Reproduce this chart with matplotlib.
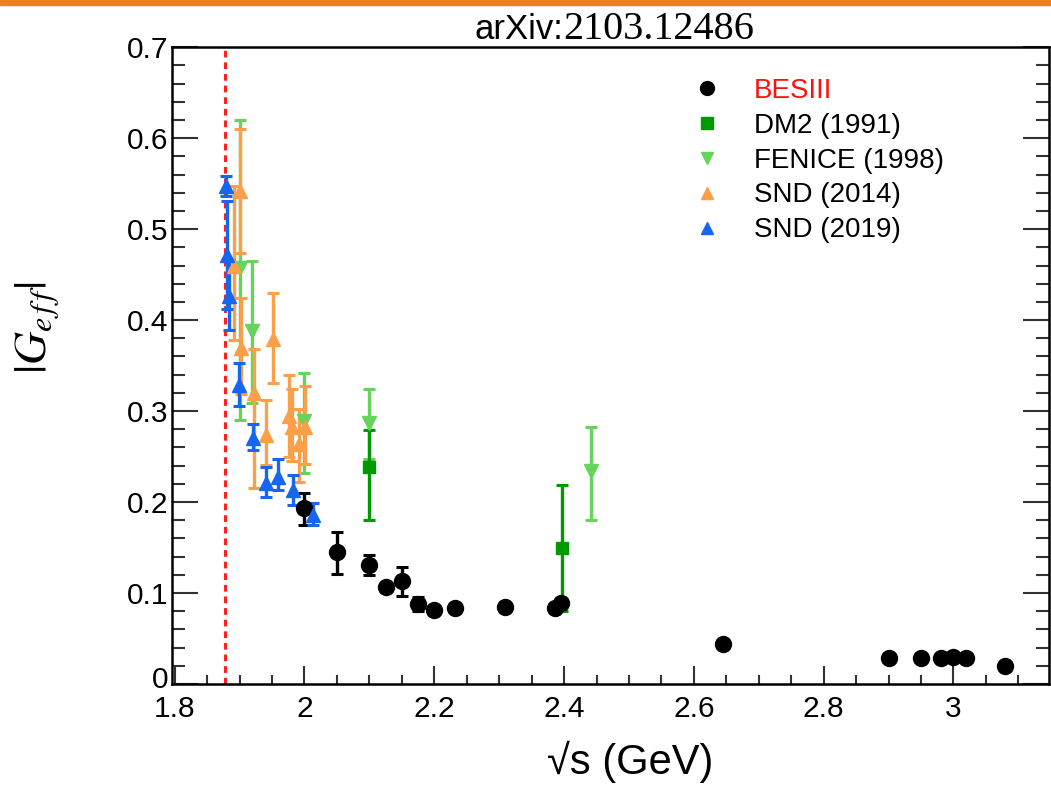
import numpy as np
import matplotlib
matplotlib.use('Agg')
import matplotlib.pyplot as plt
import matplotlib.transforms as mtransforms
from matplotlib.lines import Line2D
from matplotlib.patches import Rectangle
from matplotlib.ticker import MultipleLocator

plt.rcParams['font.family'] = ['Liberation Sans', 'DejaVu Sans']
plt.rcParams['mathtext.fontset'] = 'stix'

# BESIII
besiii_x = [2.0, 2.05, 2.1, 2.125, 2.15, 2.175, 2.2, 2.2324, 2.3094, 2.3864, 2.396,
            2.6444, 2.9, 2.95, 2.981, 3.0, 3.02, 3.08]
besiii_y = [0.193, 0.145, 0.131, 0.107, 0.113, 0.088, 0.081, 0.083, 0.085, 0.084, 0.089,
            0.044, 0.028, 0.028, 0.029, 0.030, 0.029, 0.020]
besiii_lo = [0.018, 0.024, 0.011, 0.004, 0.016, 0.008, 0.003, 0.003, 0.003, 0.003, 0.003,
             0.002, 0.002, 0.002, 0.002, 0.002, 0.002, 0.002]
besiii_hi = [0.017, 0.022, 0.011, 0.004, 0.016, 0.008, 0.003, 0.003, 0.003, 0.003, 0.003,
             0.002, 0.002, 0.002, 0.002, 0.002, 0.002, 0.002]

# DM2 (1991)
dm2_x = [2.1, 2.397]
dm2_y = [0.239, 0.149]
dm2_lo = [0.059, 0.069]
dm2_hi = [0.040, 0.070]

# FENICE (1998)
fen_x = [1.9, 1.919, 2.0, 2.1, 2.441]
fen_y = [0.457, 0.388, 0.289, 0.287, 0.234]
fen_lo = [0.167, 0.079, 0.057, 0.040, 0.054]
fen_hi = [0.163, 0.077, 0.053, 0.037, 0.049]

# SND (2014)
snd14_x = [1.891, 1.9, 1.902, 1.922, 1.941, 1.951, 1.976, 1.981, 1.991, 2.001]
snd14_y = [0.459, 0.542, 0.369, 0.320, 0.274, 0.379, 0.294, 0.283, 0.264, 0.283]
snd14_lo = [0.081, 0.068, 0.050, 0.105, 0.033, 0.048, 0.044, 0.038, 0.042, 0.041]
snd14_hi = [0.088, 0.068, 0.055, 0.048, 0.038, 0.051, 0.046, 0.041, 0.038, 0.045]

# SND (2019)
snd19_x = [1.879, 1.881, 1.884, 1.899, 1.921, 1.94, 1.96, 1.982, 2.013]
snd19_y = [0.547, 0.472, 0.426, 0.329, 0.270, 0.221, 0.228, 0.213, 0.186]
snd19_lo = [0.011, 0.060, 0.037, 0.024, 0.013, 0.015, 0.015, 0.016, 0.011]
snd19_hi = [0.011, 0.059, 0.040, 0.024, 0.016, 0.017, 0.019, 0.017, 0.013]

seuil = 1.877

c_bes = 'black'
c_dm2 = '#009a00'
c_fen = '#66d45a'
c_s14 = '#fba048'
c_s19 = '#1666f0'

fig = plt.figure(figsize=(10.51, 7.87), dpi=100)
ax = fig.add_axes([0.1637, 0.131, 0.8343, 0.809])

ax.plot([seuil, seuil], [0, 0.7], color='#ff2020', lw=2.2, ls=(0, (2.2, 1.6)), zorder=1)

eb = dict(elinewidth=2.4, capsize=4, capthick=2.2, ls='none')
ax.errorbar(fen_x, fen_y, yerr=[fen_lo, fen_hi], fmt='v', color=c_fen, ms=10, **eb)
ax.errorbar(snd14_x, snd14_y, yerr=[snd14_lo, snd14_hi], fmt='^', color=c_s14, ms=10, **eb)
ax.errorbar(dm2_x, dm2_y, yerr=[dm2_lo, dm2_hi], fmt='s', color=c_dm2, ms=9, **eb)
ax.errorbar(besiii_x, besiii_y, yerr=[besiii_lo, besiii_hi], fmt='o', color=c_bes, ms=11.5, **eb)
ax.errorbar(snd19_x, snd19_y, yerr=[snd19_lo, snd19_hi], fmt='^', color=c_s19, ms=10, **eb)

ax.set_xlim(1.796, 3.147)
ax.set_ylim(0, 0.7)
ax.xaxis.set_minor_locator(MultipleLocator(0.05))
ax.yaxis.set_minor_locator(MultipleLocator(0.02))
ax.set_xticks([1.8, 2.0, 2.2, 2.4, 2.6, 2.8, 3.0])
ax.set_xticklabels(['1.8', '2', '2.2', '2.4', '2.6', '2.8', '3'])
ax.set_yticks([0, 0.1, 0.2, 0.3, 0.4, 0.5, 0.6, 0.7])
ax.set_yticklabels(['0', '0.1', '0.2', '0.3', '0.4', '0.5', '0.6', '0.7'])

ax.tick_params(axis='both', which='both', direction='in', color='#333333', width=1.5,
               labelsize=21.5, top=False, right=True)
ax.tick_params(axis='y', which='major', length=19, pad=3)
ax.tick_params(axis='y', which='minor', length=9.5)
ax.tick_params(axis='x', which='major', length=13, pad=8)
ax.tick_params(axis='x', which='minor', length=6.5)
for s in ax.spines.values():
    s.set_linewidth(1.8)

# le "0" remonte un peu pour ne pas toucher "1.8"
zero = ax.get_yticklabels()[0]
zero.set_transform(zero.get_transform() + mtransforms.ScaledTranslation(0, 7 / 100, fig.dpi_scale_trans))

handles = [
    Line2D([], [], ls='none', marker='o', color=c_bes, ms=10),
    Line2D([], [], ls='none', marker='s', color=c_dm2, ms=8),
    Line2D([], [], ls='none', marker='v', color=c_fen, ms=9),
    Line2D([], [], ls='none', marker='^', color=c_s14, ms=9),
    Line2D([], [], ls='none', marker='^', color=c_s19, ms=9),
]
labels = ['BESIII', 'DM2 (1991)', 'FENICE (1998)', 'SND (2014)', 'SND (2019)']
leg = ax.legend(handles, labels, loc='upper left', bbox_to_anchor=(0.594, 0.952),
                frameon=False, fontsize=20, borderpad=0, borderaxespad=0,
                handlelength=1.0, handletextpad=1.2, labelspacing=0.32)
leg.get_texts()[0].set_color('#ff1010')

fig.text(0.6, 0.032, '√s (GeV)', fontsize=30, ha='center', va='center')
fig.text(0.036, 0.583, r'$|G_{e\,f\,f}|$', fontsize=33, rotation=90, ha='center', va='center')

fig.text(0.536, 0.962, 'arXiv:', fontsize=25, ha='right', va='center')
fig.text(0.536, 0.962, '2103.12486', fontsize=29, ha='left', va='center',
         family=['Liberation Serif', 'DejaVu Serif'])

fig.patches.append(Rectangle((0, 0.994), 1, 0.006, transform=fig.transFigure,
                             color='#e8821c', zorder=0))

fig.savefig('out.png', dpi=100)
